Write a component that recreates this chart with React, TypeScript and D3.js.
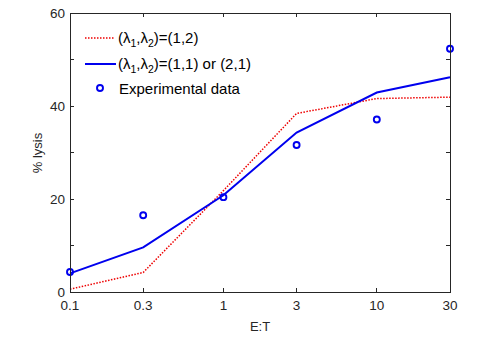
import React, { useRef, useEffect } from 'react';
import * as d3 from 'd3';

// E:T ratios and % lysis
const ratios = [0.1, 0.3, 1, 3, 10, 30];
const model12 = [0.6, 4.2, 21.8, 38.4, 41.6, 41.9];
const model11 = [4.0, 9.6, 20.8, 34.3, 42.9, 46.2];
const experimental = [4.3, 16.5, 20.4, 31.6, 37.1, 52.3];
const xTickLabels = ['0.1', '0.3', '1', '3', '10', '30'];
const yTicks = [0, 10, 20, 30, 40, 50, 60];
const yTickLabels = [0, 20, 40, 60];

const width = 492;
const height = 339;
const left = 70, right = 450, top = 13, bottom = 292;
const font = 'Liberation Sans, Arial, sans-serif';
const axisColor = '#262626';
const blue = '#0000ee';
const red = '#ee0000';

const App = () => {
  const svgRef = useRef<SVGSVGElement>(null);

  useEffect(() => {
    const svg = d3.select(svgRef.current);
    svg.selectAll('*').remove();

    const x = d3.scaleLog().domain([0.1, 30]).range([left, right]);
    const y = d3.scaleLinear().domain([0, 60]).range([bottom, top]);

    svg.append('rect')
      .attr('width', width).attr('height', height).attr('fill', '#fff');

    const line = d3.line<number>()
      .x((d, i) => x(ratios[i]))
      .y(d => y(d));

    // model curves
    svg.append('path')
      .attr('d', line(model12))
      .attr('fill', 'none')
      .attr('stroke', red)
      .attr('stroke-width', 1.5)
      .attr('stroke-dasharray', '1.5,1.5');

    svg.append('path')
      .attr('d', line(model11))
      .attr('fill', 'none')
      .attr('stroke', blue)
      .attr('stroke-width', 2);

    svg.selectAll('circle.exp')
      .data(experimental)
      .enter()
      .append('circle')
        .attr('class', 'exp')
        .attr('cx', (d, i) => x(ratios[i]))
        .attr('cy', d => y(d))
        .attr('r', 3)
        .attr('fill', 'none')
        .attr('stroke', blue)
        .attr('stroke-width', 1.9);

    // box + inward ticks
    const axes = svg.append('g')
      .attr('stroke', axisColor)
      .attr('stroke-width', 1)
      .attr('shape-rendering', 'crispEdges');
    axes.append('rect')
      .attr('x', left).attr('y', top)
      .attr('width', right - left).attr('height', bottom - top)
      .attr('fill', 'none');

    const tl = 4;
    ratios.forEach(r => {
      axes.append('line')
        .attr('x1', x(r)).attr('x2', x(r))
        .attr('y1', bottom).attr('y2', bottom - tl);
      axes.append('line')
        .attr('x1', x(r)).attr('x2', x(r))
        .attr('y1', top).attr('y2', top + tl);
    });
    yTicks.forEach(t => {
      axes.append('line')
        .attr('x1', left).attr('x2', left + tl)
        .attr('y1', y(t)).attr('y2', y(t));
      axes.append('line')
        .attr('x1', right).attr('x2', right - tl)
        .attr('y1', y(t)).attr('y2', y(t));
    });

    // tick labels
    svg.selectAll('text.xt')
      .data(ratios)
      .enter()
      .append('text')
        .attr('class', 'xt')
        .attr('x', d => x(d))
        .attr('y', 310)
        .attr('text-anchor', 'middle')
        .attr('font-family', font)
        .attr('font-size', 13.5)
        .attr('fill', axisColor)
        .text((d, i) => xTickLabels[i]);

    svg.selectAll('text.yt')
      .data(yTickLabels)
      .enter()
      .append('text')
        .attr('class', 'yt')
        .attr('x', 65)
        .attr('y', d => y(d) + 5)
        .attr('text-anchor', 'end')
        .attr('font-family', font)
        .attr('font-size', 13.5)
        .attr('fill', axisColor)
        .text(d => d);

    svg.append('text')
      .attr('x', (left + right) / 2)
      .attr('y', 331)
      .attr('text-anchor', 'middle')
      .attr('font-family', font)
      .attr('font-size', 13)
      .attr('fill', axisColor)
      .text('E:T');

    svg.append('text')
      .attr('transform', 'translate(42,153) rotate(-90)')
      .attr('text-anchor', 'middle')
      .attr('font-family', font)
      .attr('font-size', 13)
      .attr('fill', axisColor)
      .text('% lysis');

    // legend
    const lg = svg.append('g').attr('font-family', font).attr('font-size', 15).attr('fill', '#000');
    const lambdaText = (yy: number, tail: string) => {
      const t = lg.append('text').attr('x', 118).attr('y', yy + 5);
      t.append('tspan').text('(λ');
      t.append('tspan').attr('font-size', 10.5).attr('dy', 4).text('1');
      t.append('tspan').attr('dy', -4).text(',λ');
      t.append('tspan').attr('font-size', 10.5).attr('dy', 4).text('2');
      t.append('tspan').attr('dy', -4).text(tail);
    };

    lg.append('line')
      .attr('x1', 85).attr('x2', 114).attr('y1', 38).attr('y2', 38)
      .attr('stroke', red).attr('stroke-width', 1.5).attr('stroke-dasharray', '1.5,1.5');
    lambdaText(38, ')=(1,2)');

    lg.append('line')
      .attr('x1', 85).attr('x2', 116).attr('y1', 64).attr('y2', 64)
      .attr('stroke', blue).attr('stroke-width', 2);
    lambdaText(64, ')=(1,1) or (2,1)');

    lg.append('circle')
      .attr('cx', 100).attr('cy', 88).attr('r', 3)
      .attr('fill', 'none').attr('stroke', blue).attr('stroke-width', 1.9);
    lg.append('text').attr('x', 119).attr('y', 94).text('Experimental data');
  }, []);

  return (
    <svg
      ref={svgRef}
      width={width}
      height={height}
      style={{ position: 'absolute', left: 0, top: 0, display: 'block' }}
    />
  );
};

export default App;
